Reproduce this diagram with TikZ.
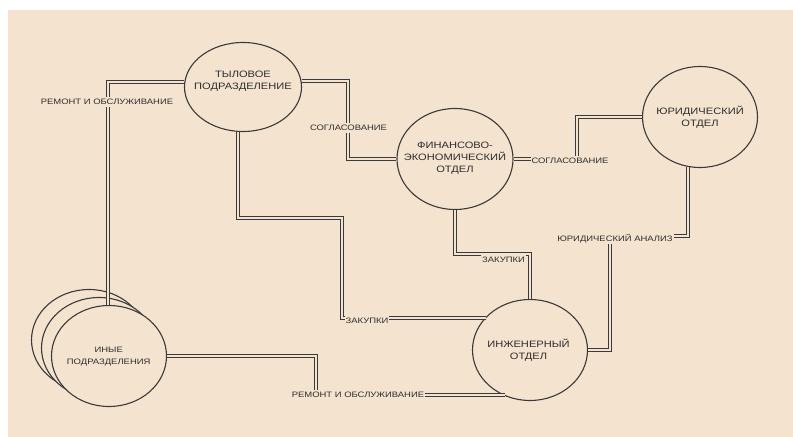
\documentclass[tikz,border=0pt]{standalone}
\usepackage{fontspec}
\setmainfont{Liberation Sans}[FakeStretch=1.2]
\usetikzlibrary{shapes.geometric}
\definecolor{paper}{HTML}{F4E3CF}
\definecolor{ink}{HTML}{3A3A3A}
\definecolor{txt}{HTML}{2E2E2E}

\begin{document}
\begin{tikzpicture}[x=1bp,y=-1bp,
  unit/.style={ellipse, draw=ink, line width=1.1bp, fill=paper, inner sep=0pt,
    minimum width=115bp, minimum height=101bp},
  unittext/.style={text=txt, font=\fontsize{9.3}{12}\selectfont, align=center, inner sep=0pt},
  flow/.style={draw=ink, line width=1.1bp, double=paper, double distance=2bp},
  flowlabel/.style={fill=paper, text=txt, font=\fontsize{7.9}{9}\selectfont,
    inner xsep=1pt, inner ysep=2.5pt, text height=5.7pt, text depth=0pt}
]
% canvas and paper
\useasboundingbox (0,0) rectangle (793,437);
\fill[white] (0,0) rectangle (793,437);
\fill[paper] (8,10) rectangle (793,437);

% units
\node[unit] (ine3) at (89,340) {};
\node[unit] (ine2) at (99,348) {};
\node[unit] (ine)  at (109,356) {};
\node[unit, minimum width=117bp, minimum height=89bp] (tyl) at (243,87) {};
\node[unit, minimum width=116bp] (fin) at (455,159) {};
\node[unit] (jur) at (700,117) {};
\node[unit] (inz) at (530,350) {};

% flows (double lines, bends kept on whole units)
\draw[flow] (tyl.175 |- 0,82) -| (108,0 |- ine.north);
\draw[flow] (tyl.5 |- 0,81) -| (348,159) -- (fin.west);
\draw[flow] (238,0 |- tyl.264) |- (342,218) |- (inz.143 |- 0,318);
\draw[flow] (fin.south) |- (530,254) -- (inz.north);
\draw[flow] (fin.east) -| (577,138) |- (jur.west);
\draw[flow] (688,0 |- jur.256) |- (610,236) |- (inz.east);
\draw[flow] (ine.east) -| (316,380) |- (inz.241 |- 0,395);

% flow labels
\node[flowlabel] (lA) at (107,102) {РЕМОНТ И ОБСЛУЖИВАНИЕ};
\node[flowlabel] (lB) at (348.5,128) {СОГЛАСОВАНИЕ};
\node[flowlabel, anchor=west] (lC) at (344.5,320.5) {ЗАКУПКИ};
\node[flowlabel] (lD) at (503.5,260) {ЗАКУПКИ};
\node[flowlabel] (lE) at (570,161) {СОГЛАСОВАНИЕ};
\node[flowlabel] (lF) at (615,239) {ЮРИДИЧЕСКИЙ АНАЛИЗ};
\node[flowlabel] (lG) at (358,395) {РЕМОНТ И ОБСЛУЖИВАНИЕ};

% unit names
\node[unittext] (tylT) at (243,81.5) {ТЫЛОВОЕ\\ПОДРАЗДЕЛЕНИЕ};
\node[unittext] (finT) at (455,158.3) {ФИНАНСОВО-\\ЭКОНОМИЧЕСКИЙ\\ОТДЕЛ};
\node[unittext] (jurT) at (700,117) {ЮРИДИЧЕСКИЙ\\ОТДЕЛ};
\node[unittext] (inzT) at (528.5,350.5) {ИНЖЕНЕРНЫЙ\\ОТДЕЛ};
\node[unittext, font=\fontsize{7.9}{12}\selectfont] (ineT) at (108.7,356.7) {ИНЫЕ\\ПОДРАЗДЕЛЕНИЯ};
\end{tikzpicture}
\end{document}
